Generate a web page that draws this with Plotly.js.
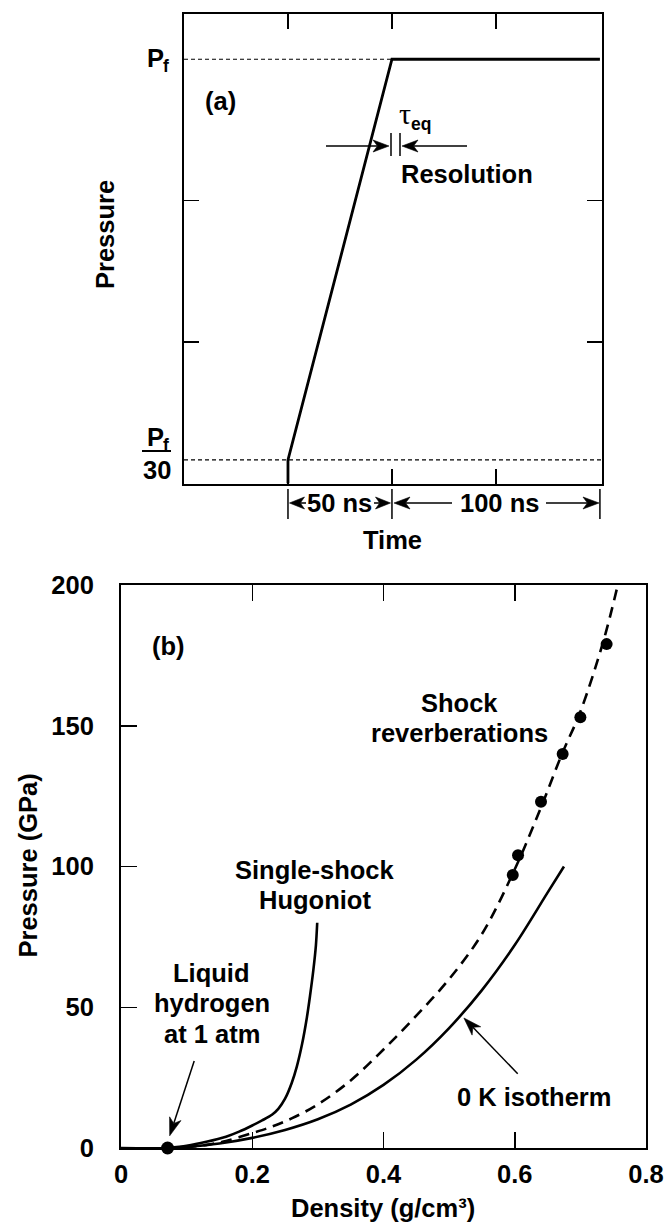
<!DOCTYPE html>
<html><head><meta charset="utf-8">
<script src="https://cdn.plot.ly/plotly-3.0.1.min.js"></script>
<style>html,body{margin:0;padding:0;background:#fff}#chart{width:664px;height:1230px}</style>
</head><body><div id="chart"></div>
<script>
// ---------- panel (a): schematic pressure history (Pf = 3 units, Pf/30 = 1/6 unit) ----------
const rampTimeNs = [50, 50, 100, 200];
const rampPressure = [0, 1/6, 3, 3];
const pfLineTime = [0, 100];
const pfLinePressure = [3, 3];
const pf30LineTime = [0, 201];
const pf30LinePressure = [1/6, 1/6];
const timeTicksNs = [50, 100, 150];
const pressureTicksA = [1, 2];
const spanBarsNs = [50, 100, 200];

// ---------- panel (b): hydrogen compression paths ----------
const isoDensity  = [0, 0.071, 0.10, 0.15, 0.20, 0.25, 0.30, 0.35, 0.40, 0.45, 0.50, 0.55, 0.60, 0.65, 0.675];
const isoPressure = [0, 0,     0.4,  1.6,  3.6,  6.4,  10.2, 15.4, 22.4, 31.4, 42.6, 56.1, 72.1, 90.7, 100];

const hugDensity  = [0.071, 0.10, 0.13, 0.16, 0.18, 0.20, 0.215, 0.23, 0.24, 0.25, 0.26, 0.268, 0.276, 0.283, 0.288, 0.293, 0.297, 0.299];
const hugPressure = [0,     0.8,  2.2,  4.0,  5.8,  8.0,  9.8,   11.8,  14.0, 17.5, 23,   29,    37,    46,    54,    63,    72,    80];

const revDensity  = [0.071, 0.10, 0.13, 0.16, 0.20, 0.23, 0.26, 0.30, 0.35, 0.40, 0.45, 0.50, 0.55, 0.60, 0.64, 0.672, 0.70, 0.735, 0.757];
const revPressure = [0,     0.3,  1.1,  2.5,  5.3,  7.6,  10.5, 15.5, 24,   35,   47,   60,   76,   99,   121,  140,   155,  180,   200];

const pointDensity  = [0.597, 0.605, 0.640, 0.673, 0.700, 0.740];
const pointPressure = [97, 104, 123, 140, 153, 179];

const lh2Density = [0.071];
const lh2Pressure = [0];

const densityTicks = [0, 0.2, 0.4, 0.6, 0.8];
const densityTickText = ['0', '0.2', '0.4', '0.6', '0.8'];
const pressureTicksB = [0, 50, 100, 150, 200];

// ---------- helpers ----------
const W = 664, H = 1230;
const fx = p => p / W, fy = p => 1 - p / H;
const FAM = "'Liberation Sans', Arial, Helvetica, sans-serif";
const FONT = {family: FAM, size: 25.5, color: '#000', weight: 700};
const SUBFONT = {family: FAM, size: 17.5, color: '#000', weight: 700};
const SERIF = {family: "'Liberation Serif', 'Times New Roman', serif", size: 30, color: '#000', weight: 400};

function label(xp, yp, text, extra) {
  return Object.assign({xref: 'paper', yref: 'paper', x: fx(xp), y: fy(yp), text: text,
    showarrow: false, font: FONT, xanchor: 'center', yanchor: 'middle'}, extra || {});
}
function pline(x0, y0, x1, y1, w) {
  return {type: 'line', xref: 'paper', yref: 'paper', x0: fx(x0), y0: fy(y0), x1: fx(x1), y1: fy(y1),
    line: {color: '#000', width: w || 1.5}};
}
// arrow = shaft line + barbed filled head, given in page pixels
function arrowShapes(tipX, tipY, tailX, tailY, L, Wd) {
  L = L || 16; Wd = Wd || 12;
  const dx = tipX - tailX, dy = tipY - tailY, len = Math.hypot(dx, dy);
  const ux = dx / len, uy = dy / len, nx = -uy, ny = ux;
  const bx = tipX - ux * L, by = tipY - uy * L;
  const kx = tipX - ux * L * 0.72, ky = tipY - uy * L * 0.72;
  const P = (x, y) => fx(x).toFixed(5) + ',' + fy(y).toFixed(5);
  return [
    {type: 'line', xref: 'paper', yref: 'paper', x0: fx(tailX), y0: fy(tailY), x1: fx(kx), y1: fy(ky),
     line: {color: '#000', width: 1.5}},
    {type: 'path', xref: 'paper', yref: 'paper',
     path: 'M' + P(tipX, tipY) + 'L' + P(bx + nx * Wd / 2, by + ny * Wd / 2) + 'L' + P(kx, ky) +
           'L' + P(bx - nx * Wd / 2, by - ny * Wd / 2) + 'Z',
     fillcolor: '#000', line: {color: '#000', width: 0.6}}
  ];
}

const axBase = {showline: true, linewidth: 2, linecolor: '#000', ticks: 'inside', tickcolor: '#000',
  tickwidth: 1.5, showgrid: false, zeroline: false, fixedrange: true};

const traces = [
  {x: pfLineTime, y: pfLinePressure, xaxis: 'x', yaxis: 'y', mode: 'lines',
   line: {color: '#000', width: 1.2, dash: '4px,3px'}, hoverinfo: 'skip'},
  {x: pf30LineTime, y: pf30LinePressure, xaxis: 'x', yaxis: 'y', mode: 'lines',
   line: {color: '#000', width: 1.2, dash: '4px,3px'}, hoverinfo: 'skip'},
  {x: rampTimeNs, y: rampPressure, xaxis: 'x', yaxis: 'y', mode: 'lines',
   line: {color: '#000', width: 2.8}},
  {x: isoDensity, y: isoPressure, xaxis: 'x2', yaxis: 'y2', mode: 'lines',
   line: {color: '#000', width: 2.6, shape: 'spline', smoothing: 1}, name: '0 K isotherm'},
  {x: hugDensity, y: hugPressure, xaxis: 'x2', yaxis: 'y2', mode: 'lines',
   line: {color: '#000', width: 2.6, shape: 'spline', smoothing: 0.8}, name: 'Single-shock Hugoniot'},
  {x: revDensity, y: revPressure, xaxis: 'x2', yaxis: 'y2', mode: 'lines',
   line: {color: '#000', width: 2.6, dash: '11px,7px', shape: 'spline', smoothing: 1}, name: 'Shock reverberations'},
  {x: pointDensity, y: pointPressure, xaxis: 'x2', yaxis: 'y2', mode: 'markers',
   marker: {color: '#000', size: 12}, cliponaxis: false},
  {x: lh2Density, y: lh2Pressure, xaxis: 'x2', yaxis: 'y2', mode: 'markers',
   marker: {color: '#000', size: 13}, cliponaxis: false}
];

const annotations = [
  // panel (a)
  label(221, 101, '(a)'),
  label(397, 113, 'τ', {xanchor: 'left', font: SERIF}),
  label(409, 124, 'eq', {xanchor: 'left', font: SUBFONT}),
  label(399, 174, 'Resolution', {xanchor: 'left'}),
  label(166, 58, 'P', {xanchor: 'right'}),
  label(160.5, 66, 'f', {xanchor: 'left', font: SUBFONT}),
  label(166, 437, 'P', {xanchor: 'right'}),
  label(160.5, 445, 'f', {xanchor: 'left', font: SUBFONT}),
  label(157, 470, '30'),
  label(105, 235, 'Pressure', {textangle: -90}),
  label(339.5, 503, '50 ns'),
  label(499.5, 503, '100 ns'),
  label(392, 540, 'Time'),
  // panel (b)
  label(168, 645.6, '(b)'),
  label(459, 703, 'Shock'),
  label(459, 733, 'reverberations'),
  label(314.5, 870, 'Single-shock'),
  label(314.5, 900, 'Hugoniot'),
  label(211, 973, 'Liquid'),
  label(212, 1003, 'hydrogen'),
  label(212, 1034, 'at 1 atm'),
  label(533.7, 1097, '0 K isotherm'),
  label(383, 1207.5, 'Density (g/cm³)'),
  label(27.5, 866, 'Pressure (GPa)', {textangle: -90})
];

let shapes = [
  pline(391, 133, 391, 156),
  pline(400, 133, 400, 156),
  pline(142, 451, 171, 451, 2)
].concat(spanBarsNs.map(t => ({type: 'line', xref: 'x', yref: 'paper', x0: t, x1: t,
  y0: fy(519), y1: fy(489), line: {color: '#000', width: 1.5}})));
shapes = shapes
  .concat(arrowShapes(389, 146, 326, 146))
  .concat(arrowShapes(402, 146, 467, 146))
  .concat(arrowShapes(289.5, 503, 306, 503, 15, 12))
  .concat(arrowShapes(390.5, 503, 374, 503, 15, 12))
  .concat(arrowShapes(394, 503, 452, 503, 16, 12))
  .concat(arrowShapes(599, 503, 546, 503, 16, 12))
  .concat(arrowShapes(169.7, 1135.8, 194.2, 1060.9, 18, 12))
  .concat(arrowShapes(463.9, 1018, 517.7, 1073.7, 18, 12));

const layout = {
  width: W, height: H, margin: {l: 0, r: 0, t: 0, b: 0},
  paper_bgcolor: '#fff', plot_bgcolor: '#fff', showlegend: false,
  font: {family: FAM, size: 25.5, color: '#000'},
  xaxis: Object.assign({}, axBase, {domain: [fx(184), fx(602)], range: [0, 201], anchor: 'y',
    mirror: 'ticks', ticklen: 15, tickvals: timeTicksNs, showticklabels: false}),
  yaxis: Object.assign({}, axBase, {domain: [fy(483.5), fy(14.3)], range: [0, 3.318], anchor: 'x',
    mirror: 'ticks', ticklen: 15, tickvals: pressureTicksA, showticklabels: false}),
  xaxis2: Object.assign({}, axBase, {domain: [fx(121), fx(646)], range: [0, 0.8], anchor: 'y2',
    mirror: 'ticks', ticklen: 16, tickvals: densityTicks, ticktext: densityTickText,
    tickfont: FONT, ticklabelstandoff: 2}),
  yaxis2: Object.assign({}, axBase, {domain: [fy(1148), fy(585)], range: [0, 200], anchor: 'x2',
    mirror: true, ticklen: 16, tickvals: pressureTicksB, tickfont: FONT, ticklabelstandoff: 20}),
  annotations: annotations,
  shapes: shapes
};

Plotly.newPlot('chart', traces, layout, {staticPlot: true, displayModeBar: false});
</script>
</body></html>
